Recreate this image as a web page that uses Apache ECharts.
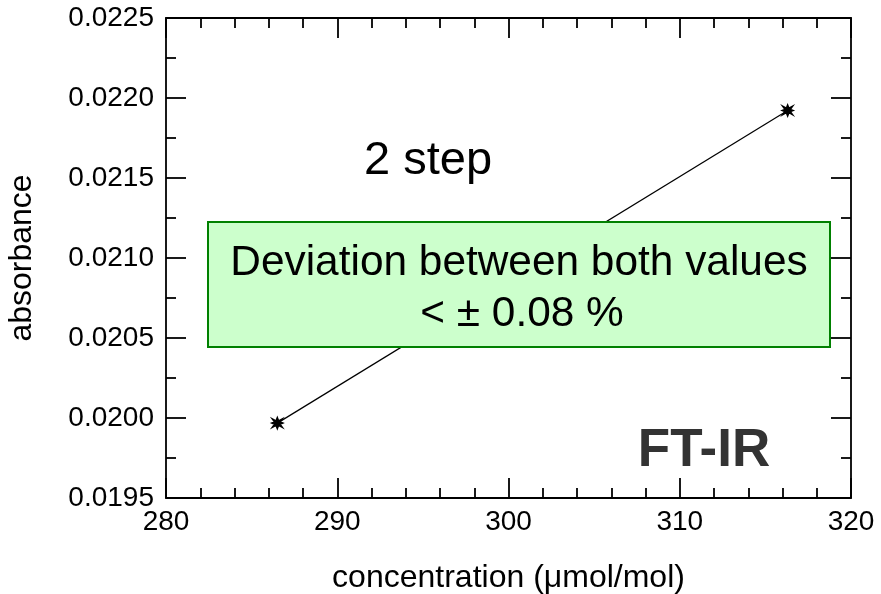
<!DOCTYPE html>
<html><head><meta charset="utf-8">
<script src="https://cdn.jsdelivr.net/npm/echarts@6/dist/echarts.min.js"></script>
<style>html,body{margin:0;padding:0;background:#fff}#c{width:881px;height:594px}</style>
</head><body><div id="c"></div>
<script>
const concentration = [286.5, 316.3];
const absorbance = [0.019968, 0.021922];
const xTicks = [280, 290, 300, 310, 320];
const yTicks = [0.0195, 0.0200, 0.0205, 0.0210, 0.0215, 0.0220, 0.0225];

const F = '"Liberation Sans", Arial, sans-serif';
const chart = echarts.init(document.getElementById('c'));
const axisLine = {show: true, lineStyle: {color: '#000', width: 1.8}};
const axisTick = {show: true, inside: true, length: 20, lineStyle: {color: '#000', width: 1.8}};
function mkX(pos, show) {
  return {
    type: 'value', position: pos, min: xTicks[0], max: xTicks[xTicks.length-1], interval: 10,
    axisLine: axisLine, axisTick: axisTick, splitLine: {show: false},
    minorTick: {show: true, splitNumber: 5, length: 10, lineStyle: {color: '#000', width: 1.8}},
    axisLabel: {show: show, color: '#000', fontFamily: F, fontSize: 28, margin: 10},
    name: show ? 'concentration (\u03bcmol/mol)' : '', nameLocation: 'middle', nameGap: 64,
    nameTextStyle: {color: '#000', fontFamily: F, fontSize: 32}
  };
}
function mkY(pos, show) {
  return {
    type: 'value', position: pos, min: yTicks[0], max: yTicks[yTicks.length-1], interval: 0.0005,
    axisLine: axisLine, axisTick: axisTick, splitLine: {show: false},
    minorTick: {show: true, splitNumber: 2, length: 10, lineStyle: {color: '#000', width: 1.8}},
    axisLabel: {show: show, color: '#000', fontFamily: F, fontSize: 28, margin: 12,
      formatter: v => v.toFixed(4)},
    name: show ? 'absorbance' : '', nameLocation: 'middle', nameGap: 128,
    nameTextStyle: {color: '#000', fontFamily: F, fontSize: 32}
  };
}
const star = 'path://M5 0 L6.2 3 L9.5 1.2 L7.5 4 L10 5 L7.5 6 L9.5 8.8 L6.2 7 L5 10 L3.8 7 L0.5 8.8 L2.5 6 L0 5 L2.5 4 L0.5 1.2 L3.8 3 Z';
chart.setOption({
  animation: false,
  grid: {left: 166, top: 18, right: 30, bottom: 96, outerBoundsMode: 'none', containLabel: false},
  xAxis: [mkX('bottom', true), mkX('top', false)],
  yAxis: [mkY('left', true), mkY('right', false)],
  series: [{
    type: 'line', xAxisIndex: 0, yAxisIndex: 0,
    data: concentration.map((c, i) => [c, absorbance[i]]),
    lineStyle: {color: '#000', width: 1.2},
    symbol: star, symbolSize: 11, showSymbol: true,
    itemStyle: {color: '#000', borderColor: '#000', borderWidth: 1.5}
  }],
  graphic: [
    {type: 'text', z: 100, style: {text: '2 step', x: 428, y: 161, align: 'center', verticalAlign: 'middle', font: '47px ' + F, fill: '#000'}},
    {type: 'rect', z: 100, shape: {x: 208, y: 222, width: 622, height: 125},
     style: {fill: '#ccffcc', stroke: '#008000', lineWidth: 2}},
    {type: 'text', z: 101, style: {text: 'Deviation between both values', x: 519, y: 263, align: 'center', verticalAlign: 'middle', font: '42.4px ' + F, fill: '#000'}},
    {type: 'text', z: 101, style: {text: '< \u00b1 0.08 %', x: 522, y: 314, align: 'center', verticalAlign: 'middle', font: '42.4px ' + F, fill: '#000'}},
    {type: 'text', z: 101, style: {text: 'FT-IR', x: 704, y: 451, align: 'center', verticalAlign: 'middle', font: 'bold 53px ' + F, fill: '#333'}}
  ]
});
</script></body></html>
